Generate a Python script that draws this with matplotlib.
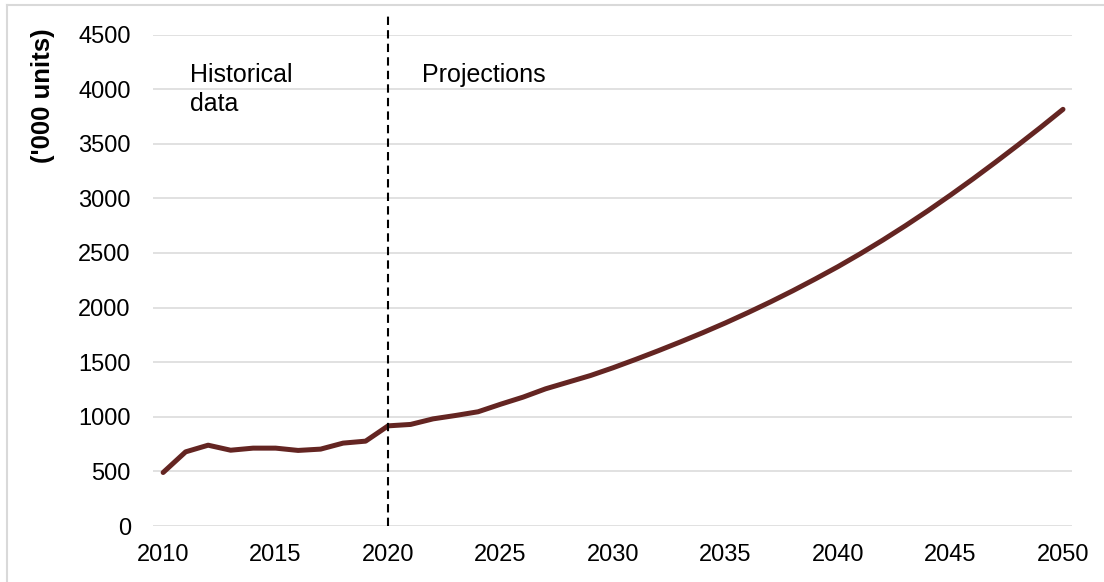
import matplotlib.pyplot as plt
from matplotlib.lines import Line2D

plt.rcParams['font.family'] = ['Liberation Sans', 'DejaVu Sans']

years = list(range(2010, 2051))
units = [490, 679, 740, 694, 713, 713, 692, 704, 759, 777,
         917, 930, 981, 1012, 1046, 1115, 1180, 1256, 1317, 1378,
         1449, 1525, 1604, 1686, 1771, 1860, 1954, 2052, 2155, 2263,
         2375, 2494, 2619, 2750, 2887, 3030, 3178, 3331, 3488, 3649, 3815]
xticks = list(range(2010, 2051, 5))
yticks = list(range(0, 4501, 500))
split_year = 2020

fig = plt.figure(figsize=(11.04, 5.82), dpi=100)
ax = fig.add_axes([0.1386, 0.0962, 0.971 - 0.1386, 0.9407 - 0.0962])

grid_c = '#d9d9d9'
for y in yticks:
    ax.axhline(y, color=grid_c, lw=1.1, zorder=1)

ax.plot(years, units, color='#642522', lw=3.6, solid_capstyle='round',
        solid_joinstyle='round', zorder=3)

# divider between history and projections, runs above the plot area
ax.plot([split_year, split_year], [0, 4700], color='black', lw=1.5,
        linestyle=(0, (4, 2.5)), clip_on=False, zorder=4)

ax.text(2011.2, 4069, 'Historical', fontsize=18, ha='left', va='baseline')
ax.text(2011.2, 3800, 'data', fontsize=18, ha='left', va='baseline')
ax.text(2021.5, 4069, 'Projections', fontsize=18, ha='left', va='baseline')

ax.set_xlim(2009.55, 2050.4)
ax.set_ylim(0, 4500)
ax.set_xticks(xticks)
ax.set_yticks(yticks)
ax.tick_params(axis='both', length=0, labelsize=17)
ax.tick_params(axis='y', pad=16)
ax.tick_params(axis='x', pad=13)
for s in ax.spines.values():
    s.set_visible(False)

fig.text(43 / 1104, 1 - 96 / 582, "('000 units)", rotation=90, fontsize=18.5,
         fontweight='bold', ha='center', va='center')

# light frame along the left and top edge
fig.add_artist(Line2D([6.7 / 1104, 6.7 / 1104], [0, 1 - 5.3 / 582],
                      color=grid_c, lw=1.5))
fig.add_artist(Line2D([6.7 / 1104, 1], [1 - 5.3 / 582, 1 - 5.3 / 582],
                      color=grid_c, lw=1.5))

fig.savefig('out.png', dpi=100)
